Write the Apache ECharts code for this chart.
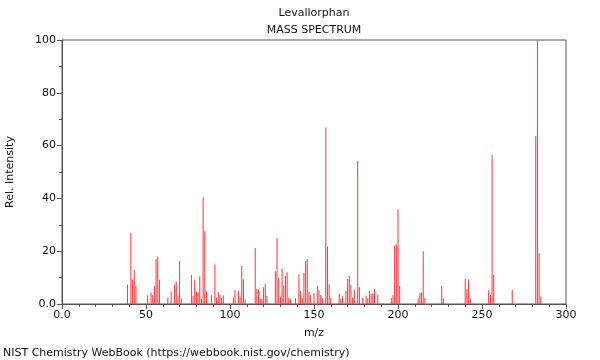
<!DOCTYPE html>
<html>
<head>
<meta charset="utf-8">
<script src="https://cdn.jsdelivr.net/npm/echarts@6/dist/echarts.min.js"></script>
<style>html,body{margin:0;padding:0;background:#fff}#c{width:600px;height:360px}</style>
</head>
<body>
<div id="c"></div>
<script>
const mz = [39,41,42,43,44,51,53,54,55,56,57,58,63,65,67,68,69,70,71,77,78,79,80,81,82,83,84,85,86,89,91,92,93,94,95,96,102,103,105,106,107,108,109,115,116,117,118,119,120,121,122,127,128,129,130,131,132,133,134,135,136,139,141,142,143,144,145,146,147,148,150,152,153,154,155,157,158,159,160,165,166,167,169,170,171,172,173,174,176,177,179,181,182,183,184,185,186,188,196,197,198,199,200,201,212,213,214,215,216,226,227,240,241,242,243,254,255,256,257,268,282,283,284,285];
const intensity = [7.3,27,9.2,13,6.9,3.3,4.4,3.4,6.9,17,18,9.2,2.4,4.7,7.4,8.4,3.1,16.3,2.1,11,3,9.2,4.7,4.4,10.5,2,40.3,27.6,4.7,3.3,15,2.4,4.5,3.5,2.3,3.3,2.5,5.3,5,2.8,14.4,9.3,1.7,21.2,5.7,5.5,2,2,6.3,7.6,3,12.4,25,10,2.8,13.4,7,10.6,12,2.4,2,2.2,11.3,4.9,2.2,11.8,16.3,17,4.5,3.5,4.2,6.9,5.2,3.4,2.2,66.9,21.8,7.5,2.5,3.9,2,2.9,4.9,9.5,10.5,7.3,2.5,5.4,54.3,6.3,2.4,3.2,2.1,5,3.8,4,5.6,3.5,2.4,3.3,22.1,22.6,35.9,6.8,2.1,4.4,4.4,20,2.5,6.9,2.2,9.5,5.6,9.3,2.1,5.2,3.4,56.4,11,5.3,63.5,100,19.2,2.8];
const title = 'Levallorphan';
const subtitle = 'MASS SPECTRUM';
const xName = 'm/z';
const yName = 'Rel. Intensity';
const footer = 'NIST Chemistry WebBook (https://webbook.nist.gov/chemistry)';

const font = 'DejaVu Sans';
const chart = echarts.init(document.getElementById('c'), null, {renderer: 'canvas'});
const axisCol = '#555';
const txt = {fontFamily: font, fontSize: 11, fill: '#111'};
chart.setOption({
  animation: false,
  backgroundColor: '#fff',
  graphic: [
    {type: 'text', x: 314, y: 13, style: Object.assign({text: title, textAlign: 'center', textVerticalAlign: 'middle'}, txt)},
    {type: 'text', x: 314, y: 30, style: Object.assign({text: subtitle, textAlign: 'center', textVerticalAlign: 'middle'}, txt)},
    {type: 'text', x: 3, y: 353, style: Object.assign({text: footer, textAlign: 'left', textVerticalAlign: 'middle'}, txt)}
  ],
  grid: {left: 62, right: 34, top: 40, bottom: 56, containLabel: false, outerBoundsMode: 'none', show: true, borderColor: axisCol, borderWidth: 1, backgroundColor: 'transparent'},
  xAxis: {
    type: 'value', min: 0, max: 300, interval: 50,
    name: xName, nameLocation: 'middle', nameGap: 24,
    nameTextStyle: {fontFamily: font, fontSize: 11, color: '#111'},
    axisLine: {show: true, lineStyle: {color: axisCol}},
    axisTick: {show: true, length: 5, lineStyle: {color: axisCol}},
    minorTick: {show: true, splitNumber: 5, length: 3, lineStyle: {color: axisCol}},
    splitLine: {show: false},
    axisLabel: {fontFamily: font, fontSize: 11, color: '#111', margin: 6, formatter: v => v === 0 ? '0.0' : String(v)}
  },
  yAxis: {
    type: 'value', min: 0, max: 100, interval: 20,
    name: yName, nameLocation: 'middle', nameGap: 46, nameRotate: 90,
    nameTextStyle: {fontFamily: font, fontSize: 11, color: '#111'},
    axisLine: {show: true, lineStyle: {color: axisCol}},
    axisTick: {show: true, length: 5, lineStyle: {color: axisCol}},
    minorTick: {show: true, splitNumber: 2, length: 3, lineStyle: {color: axisCol}},
    splitLine: {show: false},
    axisLabel: {fontFamily: font, fontSize: 11, color: '#111', margin: 6, formatter: v => v === 0 ? '0.0' : String(v)}
  },
  series: [{
    type: 'bar',
    data: mz.map((m, i) => [m, intensity[i]]),
    barWidth: 1,
    itemStyle: {color: '#ff3333'},
    silent: true
  }]
});
</script>
</body>
</html>
